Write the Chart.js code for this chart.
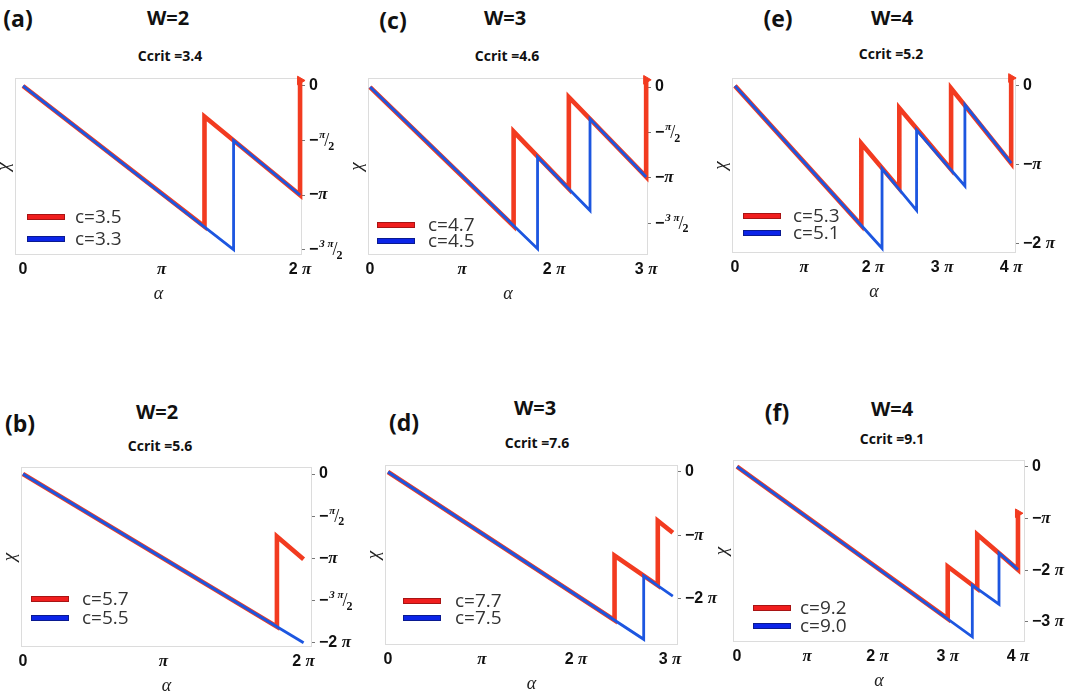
<!DOCTYPE html>
<html>
<head>
<meta charset="utf-8">
<title>chi vs alpha</title>
<script src="https://cdn.jsdelivr.net/npm/chart.js@4.4.1/dist/chart.umd.min.js"></script>
<style>
  body { margin: 0; background: #fff; }
  #page { position: relative; width: 1065px; height: 699px; overflow: hidden; font-family: "Open Sans", sans-serif; }
  .txt { position: absolute; transform: translate(-50%, -50%); white-space: nowrap; font-weight: bold; color: #111; }
  .tag { font-size: 23px; }
  .w { font-size: 20px; }
  .cc { font-size: 14px; }
  canvas { position: absolute; }
</style>
</head>
<body>
<div id="page">
  <div class="txt tag" style="left:18px;top:18px">(a)</div>
  <div class="txt w" style="left:168px;top:17px">W=2</div>
  <div class="txt cc" style="left:170px;top:55px">Ccrit =3.4</div>

  <div class="txt tag" style="left:393px;top:20px">(c)</div>
  <div class="txt w" style="left:505px;top:17px">W=3</div>
  <div class="txt cc" style="left:507px;top:55px">Ccrit =4.6</div>

  <div class="txt tag" style="left:778px;top:18px">(e)</div>
  <div class="txt w" style="left:892px;top:17px">W=4</div>
  <div class="txt cc" style="left:891px;top:53px">Ccrit =5.2</div>

  <div class="txt tag" style="left:20px;top:423px">(b)</div>
  <div class="txt w" style="left:157px;top:411px">W=2</div>
  <div class="txt cc" style="left:160px;top:445px">Ccrit =5.6</div>

  <div class="txt tag" style="left:404px;top:422px">(d)</div>
  <div class="txt w" style="left:535px;top:407px">W=3</div>
  <div class="txt cc" style="left:537px;top:442px">Ccrit =7.6</div>

  <div class="txt tag" style="left:777px;top:412px">(f)</div>
  <div class="txt w" style="left:892px;top:408px">W=4</div>
  <div class="txt cc" style="left:892px;top:438px">Ccrit =9.1</div>
</div>
<script>
// all alpha / chi values are in units of pi

// (a) W=2, Ccrit=3.4
const aLegend = ['c=3.5', 'c=3.3'];
const aRedX = [0, 1.31, 1.31, 2.0, 2.0];
const aRedY = [0, -1.29, -0.28, -1.0, 0.05];
const aBlueX = [0, 1.52, 1.52, 2.0];
const aBlueY = [0, -1.5, -0.5, -1.0];
const aTicksX = [0, 1, 2];
const aTicksY = [0, -0.5, -1, -1.5];

// (c) W=3, Ccrit=4.6
const cLegend = ['c=4.7', 'c=4.5'];
const cRedX = [0, 1.56, 1.56, 2.16, 2.16, 3.0, 3.0];
const cRedY = [0, -1.53, -0.49, -1.12, -0.11, -0.99, 0.08];
const cBlueX = [0, 1.82, 1.82, 2.39, 2.39, 3.0];
const cBlueY = [0, -1.78, -0.77, -1.36, -0.35, -0.99];
const cTicksX = [0, 1, 2, 3];
const cTicksY = [0, -0.5, -1, -1.5];

// (e) W=4, Ccrit=5.2
const eLegend = ['c=5.3', 'c=5.1'];
const eRedX = [0, 1.83, 1.83, 2.38, 2.38, 3.13, 3.13, 4.0, 4.0];
const eRedY = [0, -1.77, -0.73, -1.3, -0.28, -1.06, -0.03, -0.98, 0.1];
const eBlueX = [0, 2.13, 2.13, 2.63, 2.63, 3.33, 3.33, 4.0];
const eBlueY = [0, -2.06, -1.05, -1.58, -0.56, -1.27, -0.24, -0.98];
const eTicksX = [0, 1, 2, 3, 4];
const eTicksY = [0, -1, -2];

// (b) W=2, Ccrit=5.6
const bLegend = ['c=5.7', 'c=5.5'];
const bRedX = [0, 1.81, 1.81, 2.0];
const bRedY = [0, -1.81, -0.74, -1.01];
const bBlueX = [0, 2.0];
const bBlueY = [0, -2.0];
const bTicksX = [0, 1, 2];
const bTicksY = [0, -0.5, -1, -1.5, -2];

// (d) W=3, Ccrit=7.6
const dLegend = ['c=7.7', 'c=7.5'];
const dRedX = [0, 2.41, 2.41, 2.87, 2.87, 3.03];
const dRedY = [0, -2.34, -1.32, -1.79, -0.77, -0.96];
const dBlueX = [0, 2.72, 2.72, 3.03];
const dBlueY = [0, -2.64, -1.64, -1.96];
const dTicksX = [0, 1, 2, 3];
const dTicksY = [0, -1, -2];

// (f) W=4, Ccrit=9.1
const fLegend = ['c=9.2', 'c=9.0'];
const fRedX = [0, 3.0, 3.0, 3.42, 3.42, 4.0, 4.0];
const fRedY = [0, -2.94, -1.93, -2.36, -1.31, -1.99, -0.9];
const fBlueX = [0, 3.35, 3.35, 3.73, 3.73, 4.0];
const fBlueY = [0, -3.29, -2.29, -2.66, -1.67, -1.99];
const fTicksX = [0, 1, 2, 3, 4];
const fTicksY = [0, -1, -2, -3];

const RED = '#f23b20';
const BLUE = '#1c56e0';
const SERIF = '"Liberation Serif", serif';
const DIG = 'bold 16px "Liberation Sans", sans-serif';
const PI = 'italic bold 17px "Liberation Serif", serif';

// frame = plot box on the page, leg = legend offsets from the box
const panels = [
  { frame: [15, 78, 287, 177], x: [-0.058, 2.014], y: [-1.55, 0.073], rx: aRedX, ry: aRedY, bx: aBlueX, by: aBlueY,
    tx: aTicksX, ty: aTicksY, labels: aLegend, arrow: true, leg: { sx: 12, tx: 60, rows: [38, 16] } },
  { frame: [368, 78, 280, 177], x: [-0.022, 3.02], y: [-1.85, 0.1], rx: cRedX, ry: cRedY, bx: cBlueX, by: cBlueY,
    tx: cTicksX, ty: cTicksY, labels: cLegend, arrow: true, leg: { sx: 9, tx: 60, rows: [30, 14] } },
  { frame: [732, 78, 284, 175], x: [-0.043, 4.07], y: [-2.12, 0.1], rx: eRedX, ry: eRedY, bx: eBlueX, by: eBlueY,
    tx: eTicksX, ty: eTicksY, labels: eLegend, arrow: true, leg: { sx: 11, tx: 61, rows: [37, 20] } },
  { frame: [21, 467, 291, 180], x: [-0.014, 2.06], y: [-2.05, 0.083], rx: bRedX, ry: bRedY, bx: bBlueX, by: bBlueY,
    tx: bTicksX, ty: bTicksY, labels: bLegend, arrow: false, leg: { sx: 10, tx: 61, rows: [48, 29] } },
  { frame: [385, 465, 293, 180], x: [-0.032, 3.085], y: [-2.73, 0.11], rx: dRedX, ry: dRedY, bx: dBlueX, by: dBlueY,
    tx: dTicksX, ty: dTicksY, labels: dLegend, arrow: false, leg: { sx: 18, tx: 70, rows: [44, 27] } },
  { frame: [733, 460, 292, 182], x: [-0.057, 4.1], y: [-3.39, 0.13], rx: fRedX, ry: fRedY, bx: fBlueX, by: fBlueY,
    tx: fTicksX, ty: fTicksY, labels: fLegend, arrow: true, leg: { sx: 20, tx: 67, rows: [34, 16] } }
];

// pieces of a tick label: digits in bold sans, pi in bold italic serif
function piPieces(v) {
  if (v === 0) return [['0', DIG]];
  const out = [];
  if (v < 0) out.push(['\u2212', DIG]);
  const n = Math.abs(v);
  if (n !== 1) out.push([n + ' ', DIG]);
  out.push(['\u03c0', PI]);
  return out;
}

function drawPieces(ctx, pieces, x, y, align) {
  let w = 0;
  pieces.forEach(p => { ctx.font = p[1]; w += ctx.measureText(p[0]).width; });
  let cx = align === 'center' ? x - w / 2 : x;
  pieces.forEach(p => {
    ctx.font = p[1];
    ctx.fillText(p[0], cx, y);
    cx += ctx.measureText(p[0]).width;
  });
}

function toPoints(xs, ys) {
  return xs.map((x, i) => ({ x: x, y: ys[i] }));
}

// frame box, tick labels, legend inside the box
const deco = {
  id: 'deco',
  beforeDatasetsDraw(chart) {
    const a = chart.chartArea, ctx = chart.ctx;
    ctx.save();
    ctx.strokeStyle = '#dcdcdc';
    ctx.lineWidth = 1;
    ctx.strokeRect(a.left + 0.5, a.top + 0.5, a.right - a.left - 1, a.bottom - a.top - 1);
    ctx.restore();
  },
  afterDraw(chart, args, opts) {
    const a = chart.chartArea, ctx = chart.ctx, leg = opts.leg;
    ctx.save();
    const sw = [['#f01e1e', '#a81414'], ['#0b24e8', '#0a1a90']];
    opts.labels.forEach((txt, i) => {
      const y = a.bottom - leg.rows[i];
      ctx.fillStyle = sw[i][0];
      ctx.strokeStyle = sw[i][1];
      ctx.lineWidth = 1;
      ctx.fillRect(a.left + leg.sx, y - 3, 38, 6);
      ctx.strokeRect(a.left + leg.sx + 0.5, y - 2.5, 37, 5);
      ctx.fillStyle = '#333';
      ctx.font = '19px "Open Sans", sans-serif';
      ctx.textBaseline = 'middle';
      ctx.fillText(txt, a.left + leg.tx, y + 1);
    });

    ctx.fillStyle = '#111';
    ctx.textBaseline = 'middle';
    const xs = chart.scales.x;
    xs.ticks.forEach(t => {
      drawPieces(ctx, piPieces(t.value), xs.getPixelForValue(t.value), a.bottom + 15, 'center');
    });

    const ys = chart.scales.y;
    ys.ticks.forEach(t => {
      const y = ys.getPixelForValue(t.value);
      let x = ys.left + 7;
      if (Number.isInteger(t.value)) {
        drawPieces(ctx, piPieces(t.value), x, y, 'left');
        return;
      }
      // -pi/2 and -3pi/2 written as a slanted fraction
      const num = Math.round(Math.abs(t.value) * 2);
      ctx.font = DIG;
      ctx.fillText('\u2212', x, y);
      x += ctx.measureText('\u2212').width + 1;
      const top = num === 1 ? '\u03c0' : num + ' \u03c0';
      ctx.font = 'italic bold 11px ' + SERIF;
      ctx.fillText(top, x, y - 5);
      x += ctx.measureText(top).width - 1;
      ctx.font = '18px ' + SERIF;
      ctx.fillText('/', x, y + 1);
      x += ctx.measureText('/').width - 1;
      ctx.font = 'bold 12px ' + SERIF;
      ctx.fillText('2', x, y + 6);
    });
    ctx.restore();
  }
};

const PAD_L = 25, PAD_R = 60, PAD_T = 6, PAD_B = 50;
const page = document.getElementById('page');

panels.forEach(p => {
  const [l, t, w, h] = p.frame;
  const canvas = document.createElement('canvas');
  canvas.width = w + PAD_L + PAD_R;
  canvas.height = h + PAD_T + PAD_B;
  canvas.style.left = (l - PAD_L) + 'px';
  canvas.style.top = (t - PAD_T) + 'px';
  page.appendChild(canvas);

  const lastRed = p.rx.length - 1;

  new Chart(canvas.getContext('2d'), {
    type: 'scatter',
    data: {
      datasets: [
        {
          data: toPoints(p.bx, p.by),
          showLine: true,
          borderColor: BLUE,
          borderWidth: 2.8,
          pointRadius: 0,
          order: 1
        },
        {
          data: toPoints(p.rx, p.ry),
          showLine: true,
          clip: false,
          borderColor: RED,
          borderWidth: 4.6,
          pointStyle: 'triangle',
          rotation: 90,
          backgroundColor: RED,
          pointBackgroundColor: RED,
          pointBorderColor: RED,
          pointBorderWidth: 1,
          pointRadius: ctx => (p.arrow && ctx.dataIndex === lastRed ? 5 : 0),
          order: 2
        }
      ]
    },
    options: {
      responsive: false,
      animation: false,
      layout: { padding: { top: PAD_T, left: 0, right: 0, bottom: 0 } },
      plugins: {
        legend: { display: false },
        tooltip: { enabled: false },
        deco: { leg: p.leg, labels: p.labels }
      },
      scales: {
        x: {
          type: 'linear',
          min: p.x[0],
          max: p.x[1],
          afterBuildTicks: s => { s.ticks = p.tx.map(v => ({ value: v })); },
          afterFit: s => { s.height = PAD_B; },
          grid: { display: false, drawTicks: false },
          border: { display: false },
          ticks: { display: false },
          title: { display: true, text: '\u03b1', color: '#222', font: { family: SERIF, style: 'italic', size: 18 }, padding: 0 }
        },
        y: {
          type: 'linear',
          position: 'right',
          min: p.y[0],
          max: p.y[1],
          afterBuildTicks: s => { s.ticks = p.ty.map(v => ({ value: v })); },
          afterFit: s => { s.width = PAD_R; },
          grid: { display: true, drawOnChartArea: false, drawTicks: true, tickLength: 3, color: '#777' },
          border: { display: false },
          ticks: { display: false }
        },
        yl: {
          type: 'linear',
          position: 'left',
          min: p.y[0],
          max: p.y[1],
          afterFit: s => { s.width = PAD_L; },
          grid: { display: false },
          border: { display: false },
          ticks: { display: false },
          title: { display: true, text: '\u03c7', color: '#222', font: { family: SERIF, style: 'italic', size: 19 }, padding: { top: 3, bottom: 0 } }
        }
      }
    },
    plugins: [deco]
  });
});
</script>
</body>
</html>
